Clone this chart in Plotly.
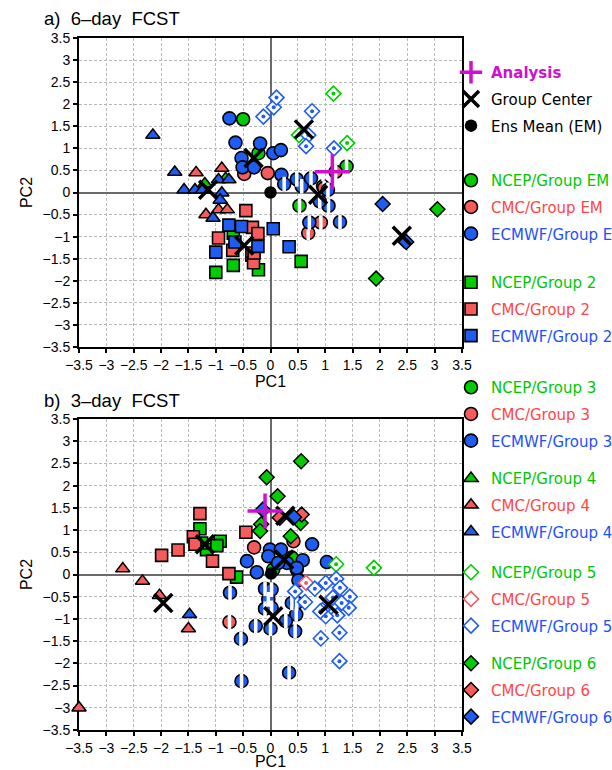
import plotly.graph_objects as go

# ---------------- data (PC1, PC2) ----------------
# Panel a) 6-day forecast
a_analysis = [(1.13, 0.47)]
a_center = [(-1.14, 0.06), (-0.31, 0.78), (0.61, 1.43), (0.87, -0.05), (2.40, -0.98), (-0.48, -1.20)]
a_ensmean = [(0.0, 0.0)]
a_ncep_em = [(-0.50, 1.66), (-0.22, 0.89)]
a_cmc_em = [(-0.48, 0.42), (-0.05, 0.44)]
a_ecmwf_em = [(-0.75, 1.68), (-0.64, 1.13), (-0.53, 0.78), (-0.51, 0.57), (-0.30, 0.57),
              (-0.19, 1.11), (0.05, 0.89), (0.19, 0.96), (0.20, 0.40)]
a_ncep_g2 = [(0.56, -1.56), (-1.00, -1.81), (-0.68, -1.65), (-0.22, -1.75), (-0.68, -0.92)]
a_cmc_g2 = [(-0.45, -0.41), (-0.33, -0.79), (-0.23, -0.93), (-0.95, -1.03), (-0.69, -1.31),
            (-0.34, -1.42), (-0.31, -1.59), (-0.30, -1.37)]
a_ecmwf_g2 = [(-0.76, -0.74), (-0.53, -0.77), (0.05, -0.82), (0.34, -1.23), (-1.00, -1.35),
              (-0.65, -1.12), (-0.23, -1.22)]
a_ncep_g3 = [(1.39, 0.59), (0.53, -0.30), (0.96, 0.14)]
a_cmc_g3 = [(1.19, 0.47), (0.92, -0.68), (0.69, -0.92), (0.98, 0.10)]
a_ecmwf_g3 = [(0.25, 0.19), (0.48, 0.30), (0.57, 0.14), (0.74, 0.32), (1.05, 0.06),
              (1.06, -0.30), (0.90, -0.20), (1.27, -0.67), (0.71, -0.68)]
a_ncep_g4 = [(-1.20, 0.20), (-0.82, 0.32)]
a_cmc_g4 = [(-1.36, 0.45), (-0.89, 0.55), (-1.18, -0.50), (-0.95, -0.39), (-0.79, -0.39)]
a_ecmwf_g4 = [(-2.15, 1.30), (-1.75, 0.46), (-1.58, 0.06), (-1.38, 0.06), (-1.24, 0.06),
              (-0.95, 0.29), (-0.76, 0.29), (-0.89, -0.01), (-0.92, -0.17), (-1.05, -0.58)]
a_ncep_g5 = [(1.15, 2.24), (0.52, 1.30), (1.40, 1.12)]
a_cmc_g5 = []
a_ecmwf_g5 = [(-0.13, 1.72), (0.06, 1.93), (0.11, 2.15), (0.76, 1.84), (0.69, 1.30),
              (0.65, 1.05), (1.16, 1.00)]
a_ncep_g6 = [(3.05, -0.38), (2.44, -1.08), (1.93, -1.95)]
a_cmc_g6 = []
a_ecmwf_g6 = [(2.05, -0.26), (2.48, -1.12)]

# Panel b) 3-day forecast
b_analysis = [(-0.10, 1.43)]
b_center = [(-1.96, -0.64), (-1.20, 0.68), (0.27, 1.32), (0.25, 0.34), (0.05, -0.94), (1.06, -0.68)]
b_ensmean = [(0.01, 0.02)]
b_ncep_em = [(0.39, 0.38), (0.05, 0.11)]
b_cmc_em = [(-0.30, 0.61), (0.42, 0.75)]
b_ecmwf_em = [(-0.43, 0.30), (-0.25, 0.05), (0.76, 0.68), (-0.01, 0.56), (0.19, 0.56),
              (-0.04, 0.41), (0.30, 0.26), (0.59, 0.32), (0.14, 0.26), (0.48, 0.11),
              (1.03, 0.28), (0.51, -0.13), (0.48, 0.15)]
b_ncep_g2 = [(-1.29, 1.03), (-1.17, 0.56), (-0.92, 0.75), (-0.98, 0.65), (-0.62, -0.06), (-1.26, 0.71)]
b_cmc_g2 = [(-1.29, 1.37), (-1.99, 0.43), (-1.69, 0.55), (-1.41, 0.85), (-1.38, 0.68),
            (-1.06, 0.30), (-0.76, 0.02), (-0.45, 0.95)]
b_ecmwf_g2 = []
b_ncep_g3 = []
b_cmc_g3 = [(-0.75, -1.07)]
b_ecmwf_g3 = [(-0.74, -0.41), (-0.10, -0.32), (0.02, -0.34), (-0.04, -0.56), (0.02, -0.75),
              (-0.10, -0.77), (0.39, -0.64), (0.48, -0.64), (0.47, -0.90), (0.28, -1.05),
              (0.00, -1.22), (-0.27, -1.16), (0.45, -1.28), (0.34, -2.21), (-0.54, -1.45),
              (-0.53, -2.40)]
b_ncep_g4 = []
b_cmc_g4 = [(-2.70, 0.13), (-2.34, -0.15), (-2.03, -0.47), (-1.50, -1.22), (-3.50, -3.00)]
b_ecmwf_g4 = [(-1.48, -0.90)]
b_ncep_g5 = [(1.20, 0.23), (1.89, 0.15)]
b_cmc_g5 = [(0.65, -0.19)]
b_ecmwf_g5 = [(0.45, -0.38), (0.81, -0.32), (1.01, -0.19), (1.20, -0.10), (1.27, -0.30),
              (1.45, -0.50), (0.63, -0.62), (0.95, -0.80), (1.22, -0.92), (1.43, -0.75),
              (1.01, -0.94), (1.26, -1.31), (0.92, -1.44), (1.26, -1.95), (1.14, -0.52),
              (1.30, -0.64), (0.91, -0.83)]
b_ncep_g6 = [(0.56, 2.55), (-0.07, 2.19), (0.13, 1.76), (-0.17, 1.13), (-0.19, 0.98),
             (0.37, 0.86), (0.55, 1.16)]
b_cmc_g6 = [(0.17, 1.28), (0.57, 1.35)]
b_ecmwf_g6 = [(0.43, 1.29), (-0.14, 1.46)]

tick_values = [-3.5, -3, -2.5, -2, -1.5, -1, -0.5, 0, 0.5, 1, 1.5, 2, 2.5, 3, 3.5]
panel_titles = ["a)\u00a0 6\u2013day\u00a0 FCST", "b)\u00a0 3\u2013day\u00a0 FCST"]

# ---------------- styles ----------------
GREEN = "#00cc00"
RED = "#f65a5a"
BLUE = "#1f5cf2"
MAG = "#d010d0"
TXT_G = "#00c800"
TXT_R = "#ff4646"
TXT_B = "#1e50ff"
FONT = "Liberation Sans"
LFONT = "DejaVu Sans"

fig = go.Figure()
rank = [0]


def xy(pts):
    return [p[0] for p in pts], [p[1] for p in pts]


def add(pts_a, pts_b, name, legend, group, marker, overlay=None):
    rank[0] += 1
    legend_panel = 0 if len(pts_a) > 0 else 1
    for k, pts in enumerate([pts_a, pts_b]):
        x, y = xy(pts)
        xa, ya = ("x", "y") if k == 0 else ("x2", "y2")
        fig.add_trace(go.Scatter(
            x=x, y=y, mode="markers", name=name, legend=legend, legendgroup=group,
            legendrank=rank[0], showlegend=(k == legend_panel), xaxis=xa, yaxis=ya,
            marker=marker, cliponaxis=False, hoverinfo="skip"))
        if overlay is not None and len(pts) > 0:
            fig.add_trace(go.Scatter(
                x=x, y=y, mode="markers", legendgroup=group, showlegend=False,
                xaxis=xa, yaxis=ya, marker=overlay, cliponaxis=False, hoverinfo="skip"))


def lab(text, color):
    return f'<span style="color:{color}">{text}</span>'


circle = lambda c: dict(symbol="circle", size=13, color=c, line=dict(color="black", width=1.6))
square = lambda c: dict(symbol="square", size=12, color=c, line=dict(color="black", width=1.6))
tri = lambda c: dict(symbol="triangle-up", size=12.5, color=c, line=dict(color="black", width=1.5))
dia5 = lambda c: dict(symbol="diamond", size=11.5, color="white", line=dict(color=c, width=1.6))
dot5 = lambda c: dict(symbol="circle", size=4, color=c, line=dict(width=0))
dia6 = lambda c: dict(symbol="diamond", size=11.5, color=c, line=dict(color="black", width=1.5))
stripe = dict(symbol="line-ns", size=10.5, color="white", line=dict(color="white", width=3.5))

groups = [
    ("NCEP/Group EM", "legend2", a_ncep_em, b_ncep_em, circle(GREEN), None, TXT_G),
    ("CMC/Group EM", "legend2", a_cmc_em, b_cmc_em, circle(RED), None, TXT_R),
    ("ECMWF/Group EM", "legend2", a_ecmwf_em, b_ecmwf_em, circle(BLUE), None, TXT_B),
    ("NCEP/Group 2", "legend3", a_ncep_g2, b_ncep_g2, square(GREEN), None, TXT_G),
    ("CMC/Group 2", "legend3", a_cmc_g2, b_cmc_g2, square(RED), None, TXT_R),
    ("ECMWF/Group 2", "legend3", a_ecmwf_g2, b_ecmwf_g2, square(BLUE), None, TXT_B),
    ("NCEP/Group 3", "legend4", a_ncep_g3, b_ncep_g3, circle(GREEN), stripe, TXT_G),
    ("CMC/Group 3", "legend4", a_cmc_g3, b_cmc_g3, circle(RED), stripe, TXT_R),
    ("ECMWF/Group 3", "legend4", a_ecmwf_g3, b_ecmwf_g3, circle(BLUE), stripe, TXT_B),
    ("NCEP/Group 4", "legend5", a_ncep_g4, b_ncep_g4, tri(GREEN), None, TXT_G),
    ("CMC/Group 4", "legend5", a_cmc_g4, b_cmc_g4, tri(RED), None, TXT_R),
    ("ECMWF/Group 4", "legend5", a_ecmwf_g4, b_ecmwf_g4, tri(BLUE), None, TXT_B),
    ("NCEP/Group 5", "legend6", a_ncep_g5, b_ncep_g5, dia5(GREEN), dot5(GREEN), TXT_G),
    ("CMC/Group 5", "legend6", a_cmc_g5, b_cmc_g5, dia5(RED), dot5(RED), TXT_R),
    ("ECMWF/Group 5", "legend6", a_ecmwf_g5, b_ecmwf_g5, dia5(BLUE), dot5(BLUE), TXT_B),
    ("NCEP/Group 6", "legend7", a_ncep_g6, b_ncep_g6, dia6(GREEN), None, TXT_G),
    ("CMC/Group 6", "legend7", a_cmc_g6, b_cmc_g6, dia6(RED), None, TXT_R),
    ("ECMWF/Group 6", "legend7", a_ecmwf_g6, b_ecmwf_g6, dia6(BLUE), None, TXT_B),
]

rank[0] = 10
for name, leg, pa, pb, mk, ov, tc in groups:
    add(pa, pb, lab(name, tc), leg, name, mk, ov)

rank[0] = 3
add(a_ensmean, b_ensmean, "Ens Mean (EM)", "legend", "em",
    dict(symbol="circle", size=12.5, color="black", line=dict(width=0)))
rank[0] = 1
add(a_center, b_center, "Group Center", "legend", "center",
    dict(symbol="x-thin", size=18, color="black", line=dict(color="black", width=3.5)))
rank[0] = 0
add(a_analysis, b_analysis, lab("<b>Analysis</b>", MAG), "legend", "analysis",
    dict(symbol="cross-thin", size=25, color=MAG, line=dict(color=MAG, width=3.5)))

# ---------------- layout ----------------
W, H = 612, 770
L, R, T, B = 79, 150, 38, 40
ph = H - T - B
pw = W - L - R


def fy(px):  # pixel row -> paper fraction
    return (H - B - px) / ph


def fx(px):  # pixel column -> paper fraction
    return (px - L) / pw


axis_common = dict(
    range=[-3.5, 3.5], tickmode="array", tickvals=tick_values,
    showgrid=True, gridcolor="#b8b8b8", griddash="3px,2px", gridwidth=1,
    zeroline=True, zerolinecolor="#6a6a6a", zerolinewidth=1.6,
    showline=True, linecolor="black", linewidth=2, mirror=True,
    ticks="outside", ticklen=4, tickwidth=1.5, tickcolor="black",
    tickfont=dict(family=FONT, size=14, color="black"), layer="below traces",
    automargin=False,
)

fig.update_layout(
    width=W, height=H, margin=dict(l=L, r=R, t=T, b=B, autoexpand=False),
    paper_bgcolor="white", plot_bgcolor="white",
    font=dict(family=FONT, color="black"),
    xaxis=dict(axis_common, domain=[0, 1], anchor="y", tickangle=0,
               title=dict(text="PC1", font=dict(size=16), standoff=3)),
    yaxis=dict(axis_common, domain=[fy(347), 1], anchor="x",
               title=dict(text="PC2", font=dict(size=16), standoff=6)),
    xaxis2=dict(axis_common, domain=[0, 1], anchor="y2", tickangle=0,
                title=dict(text="PC1", font=dict(size=16), standoff=3)),
    yaxis2=dict(axis_common, domain=[0, fy(419)], anchor="x2",
                title=dict(text="PC2", font=dict(size=16), standoff=6)),
    showlegend=True,
)

legend_tops = {"legend": 56, "legend2": 164, "legend3": 266, "legend4": 371,
               "legend5": 462, "legend6": 556, "legend7": 647}
for key, top in legend_tops.items():
    fig.update_layout({key: dict(
        x=fx(451), xref="paper", xanchor="left",
        y=fy(top), yref="paper", yanchor="top",
        traceorder="grouped", tracegroupgap=4.2, bgcolor="rgba(0,0,0,0)",
        borderwidth=0, font=dict(family=LFONT, size=15, color="black"),
        itemsizing="trace")})

for t, py in zip(panel_titles, [19, 401]):
    fig.add_annotation(text=t, xref="paper", yref="paper", x=fx(42),
                       y=fy(py), xanchor="left", yanchor="middle", showarrow=False,
                       font=dict(family=FONT, size=18.5, color="black"))

fig.write_html("out.html", post_script="document.body.style.margin='0';",
               config={"displayModeBar": False})
